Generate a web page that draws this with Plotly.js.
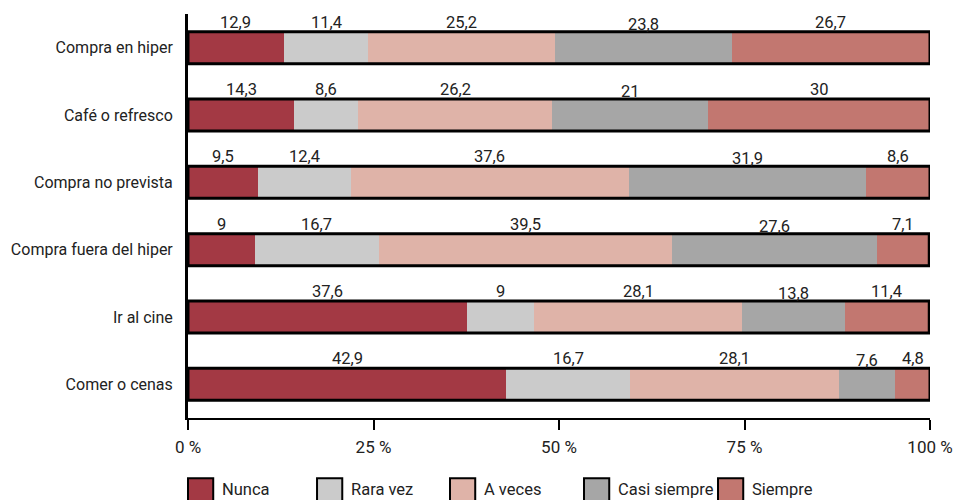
<!DOCTYPE html>
<html>
<head>
<meta charset="utf-8">
<script src="https://cdn.plot.ly/plotly-3.0.1.min.js"></script>
<style>
  html, body { margin: 0; padding: 0; background: #fff; }
  #chart { width: 959px; height: 500px; }
</style>
</head>
<body>
<div id="chart"></div>
<script>
// Frequency of activities (percent of respondents), top row first
const activities = [
  "Compra en hiper",
  "Café o refresco",
  "Compra no prevista",
  "Compra fuera del hiper",
  "Ir al cine",
  "Comer o cenas"
];
const answers = ["Nunca", "Rara vez", "A veces", "Casi siempre", "Siempre"];

const nunca       = [12.9, 14.3,  9.5,  9.0, 37.6, 42.9];
const raraVez     = [11.4,  8.6, 12.4, 16.7,  9.0, 16.7];
const aVeces      = [25.2, 26.2, 37.6, 39.5, 28.1, 28.1];
const casiSiempre = [23.8, 21.0, 31.9, 27.6, 13.8,  7.6];
const siempre     = [26.7, 30.0,  8.6,  7.1, 11.4,  4.8];

const tickValues = [0, 25, 50, 75, 100];

const series = [nunca, raraVez, aVeces, casiSiempre, siempre];
const colors = ["#A33944", "#CBCBCB", "#DFB3A8", "#A6A6A6", "#C27770"];
const FONT = "Roboto, 'Liberation Sans', sans-serif";
const TEXT = "#222222";

const traces = series.map((vals, s) => ({
  type: "bar",
  orientation: "h",
  name: answers[s],
  x: vals,
  y: activities,
  marker: { color: colors[s], line: { width: 0 } },
  width: 0.475,
  hoverinfo: "x+name",
  showlegend: false
}));

// value labels above each segment
const annotations = [];
activities.forEach((act, r) => {
  let start = 0;
  series.forEach((vals, s) => {
    const v = vals[r];
    annotations.push({
      x: start + v / 2,
      y: act,
      xref: "x", yref: "y",
      text: String(v).replace(".", ","),
      showarrow: false,
      yanchor: "bottom",
      yshift: s === 3 ? 12 : 14,
      font: { family: FONT, size: 16.5, color: TEXT }
    });
    start += v;
  });
});

// black outline round each full bar
const shapes = activities.map((act, r) => {
  const total = series.reduce((acc, vals) => acc + vals[r], 0);
  return {
    type: "rect", xref: "x", yref: "y",
    x0: 0, x1: Math.min(total, 100),
    y0: r - 0.2375, y1: r + 0.2375,
    line: { color: "#000", width: 3 },
    fillcolor: "rgba(0,0,0,0)",
    layer: "above"
  };
});

// legend row under the axis
const legendX = [0, 0.1739, 0.3531, 0.5337, 0.7143];
answers.forEach((name, s) => {
  const x0 = legendX[s];
  shapes.push({
    type: "rect", xref: "paper", yref: "paper",
    x0: x0, x1: x0 + 0.034,
    y0: -0.215, y1: -0.149,
    line: { color: "#000", width: 2 },
    fillcolor: colors[s]
  });
  annotations.push({
    xref: "paper", yref: "paper",
    x: x0 + 0.043, y: -0.177,
    xanchor: "left", yanchor: "middle",
    text: name, showarrow: false,
    font: { family: FONT, size: 16.5, color: TEXT }
  });
});

const layout = {
  width: 959, height: 500,
  margin: { l: 188, r: 29, t: 14, b: 82, pad: 0 },
  paper_bgcolor: "#fff",
  plot_bgcolor: "#fff",
  barmode: "stack",
  font: { family: FONT, size: 16.5, color: TEXT },
  xaxis: {
    range: [0, 100],
    tickvals: tickValues,
    ticktext: tickValues.map(v => v + " %"),
    ticks: "outside", ticklen: 10, tickwidth: 2, tickcolor: "#000",
    ticklabelstandoff: 3,
    showline: true, linecolor: "#000", linewidth: 2,
    showgrid: false, zeroline: false,
    tickfont: { family: FONT, size: 17, color: TEXT },
    fixedrange: true
  },
  yaxis: {
    type: "category",
    autorange: false,
    range: [5.5, -0.5],
    showline: true, linecolor: "#000", linewidth: 3,
    ticks: "", ticklabelstandoff: 9,
    showgrid: false, zeroline: false,
    tickfont: { family: FONT, size: 16, color: TEXT },
    fixedrange: true
  },
  shapes: shapes,
  annotations: annotations,
  showlegend: false
};

Plotly.newPlot("chart", traces, layout, { displayModeBar: false, staticPlot: true });
</script>
</body>
</html>
